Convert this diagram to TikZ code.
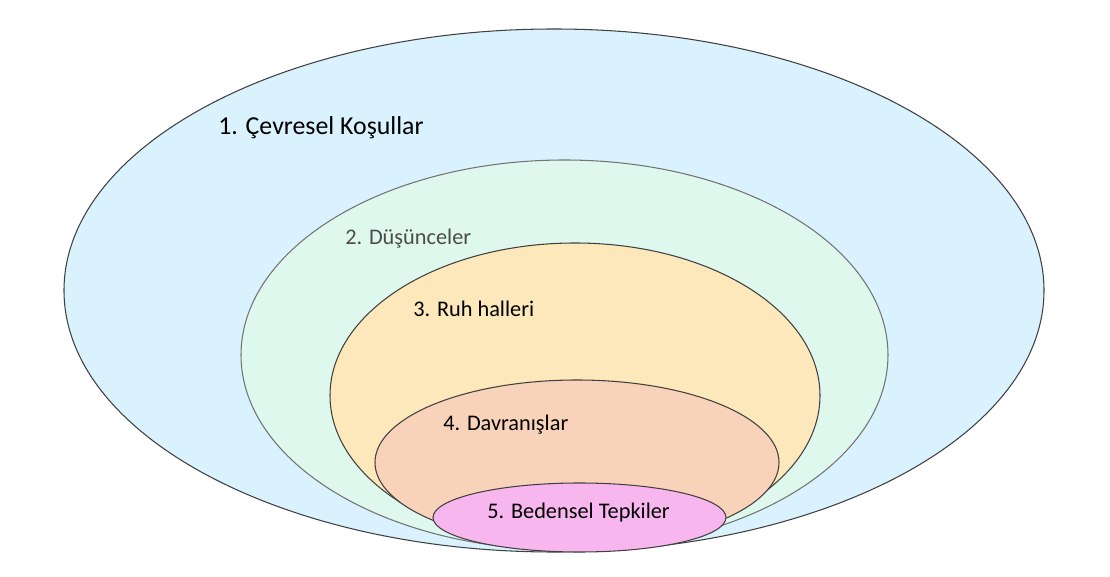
\documentclass[tikz,border=0pt]{standalone}
\usepackage{fontspec}
\setmainfont{Carlito}
\usepackage{tikz}
\usetikzlibrary{positioning}
\definecolor{cevre}{HTML}{D9F2FD}
\definecolor{dusunce}{HTML}{DFF8EE}
\definecolor{ruh}{HTML}{FCE8BA}
\definecolor{davran}{HTML}{F9D3B9}
\definecolor{beden}{HTML}{F8B6EE}
\tikzset{
  layer/.style={draw=black!75, line width=0.6pt},
  label/.style={anchor=west, inner sep=0pt, font=\fontsize{12.7}{15}\selectfont}
}

\begin{document}
\begin{tikzpicture}[x=0.02cm, y=-0.02cm]
    \useasboundingbox (0,0) rectangle (1110,577);

    % Layers, outside in
    \draw[layer, fill=cevre] (554,290.5) ellipse (490 and 261.5);
    \draw[layer, fill=dusunce, draw=black!55] (564.5,355) ellipse (323.5 and 195);
    \draw[layer, fill=ruh] (575,395.5) ellipse (245 and 152.5);
    \draw[layer, fill=davran] (577,462.5) ellipse (202 and 82.5);
    \draw[layer, fill=beden] (579.5,517.5) ellipse (146.5 and 34.5);

    % Labels
    \node[label, font=\fontsize{14.7}{17}\selectfont] (cevresel) at (218,128) {1. Çevresel Koşullar};
    \node[label, text=black!70] (dusunceler) at (345,239) {2. Düşünceler};
    \node[label] (ruhhalleri) at (413,309) {3. Ruh halleri};
    \node[label] (davranislar) at (443,425) {4. Davranışlar};
    \node[label] (tepkiler) at (487,513) {5. Bedensel Tepkiler};
\end{tikzpicture}
\end{document}
